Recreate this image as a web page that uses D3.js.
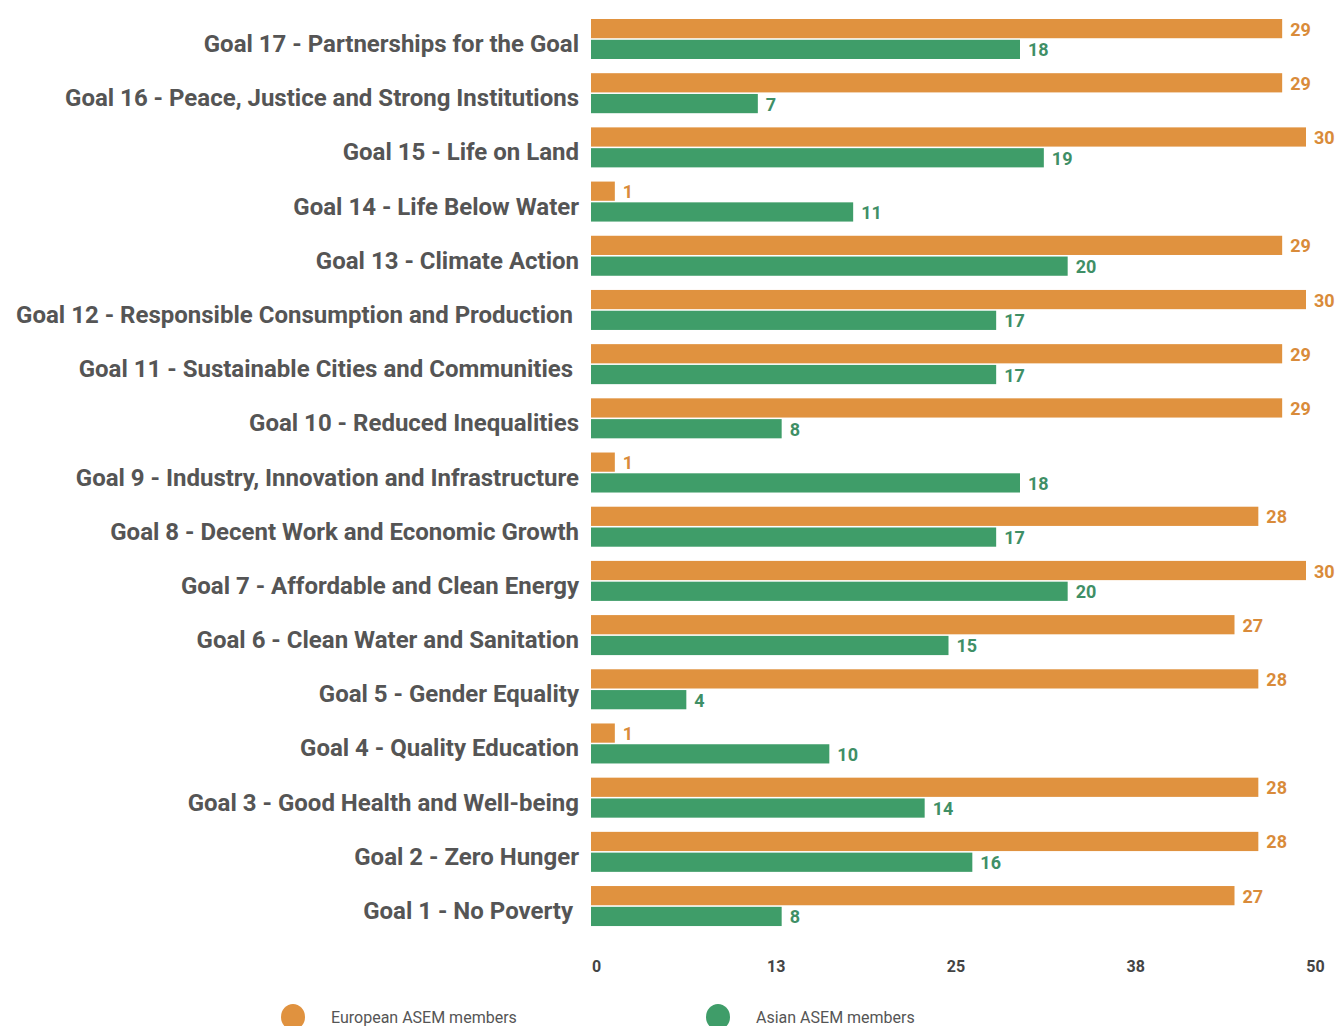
<!DOCTYPE html>
<html>
<head>
<meta charset="utf-8">
<script src="https://cdn.jsdelivr.net/npm/d3@7/dist/d3.min.js"></script>
<style>
  html, body { margin: 0; padding: 0; background: #fff; }
  svg { display: block; }
  .goal { font-family: "Roboto", sans-serif; font-weight: bold; font-size: 24px; fill: #555; white-space: pre; }
  .val { font-family: "Roboto", sans-serif; font-weight: bold; font-size: 18px; }
  .tick text { font-family: "Roboto", sans-serif; font-weight: bold; font-size: 16px; fill: #444; }
  .legend text { font-family: "Roboto", sans-serif; font-size: 16px; fill: #555; }
</style>
</head>
<body>
<svg id="chart" width="1335" height="1026"></svg>
<script>
const goals = [
  "Goal 17 - Partnerships for the Goal",
  "Goal 16 - Peace, Justice and Strong Institutions",
  "Goal 15 - Life on Land",
  "Goal 14 - Life Below Water",
  "Goal 13 - Climate Action",
  "Goal 12 - Responsible Consumption and Production ",
  "Goal 11 - Sustainable Cities and Communities ",
  "Goal 10 - Reduced Inequalities",
  "Goal 9 - Industry, Innovation and Infrastructure",
  "Goal 8 - Decent Work and Economic Growth",
  "Goal 7 - Affordable and Clean Energy",
  "Goal 6 - Clean Water and Sanitation",
  "Goal 5 - Gender Equality",
  "Goal 4 - Quality Education",
  "Goal 3 - Good Health and Well-being",
  "Goal 2 - Zero Hunger",
  "Goal 1 - No Poverty "
];
const european = [29, 29, 30, 1, 29, 30, 29, 29, 1, 28, 30, 27, 28, 1, 28, 28, 27];
const asian    = [18, 7, 19, 11, 20, 17, 17, 8, 18, 17, 20, 15, 4, 10, 14, 16, 8];
const seriesNames = ["European ASEM members", "Asian ASEM members"];
const axisTicks = [0, 12.5, 25, 37.5, 50];

const colors = { bar: ["#E0923F", "#3F9D69"], text: ["#D98B3A", "#3F8F66"] };

const svg = d3.select("#chart");

const x = d3.scaleLinear().domain([0, 30]).range([591, 1306]);
const xAxisScale = d3.scaleLinear().domain([0, 50]).range([596, 1315]);
const y = d3.scaleBand().domain(goals).range([19, 19 + 17 * 54.19]).padding(0);
const ySub = d3.scaleBand().domain([0, 1]).range([0, 40]).paddingInner(0.075);

const rows = goals.map((g, i) => ({ goal: g, values: [european[i], asian[i]] }));

const row = svg.selectAll("g.row").data(rows).join("g")
  .attr("class", "row")
  .attr("transform", d => `translate(0,${y(d.goal)})`);

row.append("text")
  .attr("class", "goal")
  .attr("x", 579)
  .attr("y", 25)
  .attr("text-anchor", "end")
  .attr("dominant-baseline", "central")
  .text(d => d.goal);

row.selectAll("rect").data(d => d.values).join("rect")
  .attr("x", x(0))
  .attr("y", (v, j) => ySub(j))
  .attr("width", v => x(v) - x(0))
  .attr("height", ySub.bandwidth())
  .attr("fill", (v, j) => colors.bar[j]);

row.selectAll("text.val").data(d => d.values).join("text")
  .attr("class", "val")
  .attr("x", v => x(v) + 8)
  .attr("y", (v, j) => ySub(j) + ySub.bandwidth() / 2 + 0.5)
  .attr("dominant-baseline", "central")
  .attr("fill", (v, j) => colors.text[j])
  .text(v => v);

const axis = d3.axisBottom(xAxisScale).tickValues(axisTicks).tickFormat(d3.format(".0f")).tickSize(0).tickPadding(0);
svg.append("g")
  .attr("transform", "translate(0,961)")
  .call(axis)
  .call(g => g.select(".domain").remove());

const legend = svg.append("g").attr("class", "legend");
const lx = [293, 718];
seriesNames.forEach((n, j) => {
  legend.append("ellipse").attr("cx", lx[j]).attr("cy", 1017).attr("rx", 12).attr("ry", 13).attr("fill", colors.bar[j]);
  legend.append("text").attr("x", lx[j] + 38).attr("y", 1017).attr("dominant-baseline", "central").text(n);
});
</script>
</body>
</html>
